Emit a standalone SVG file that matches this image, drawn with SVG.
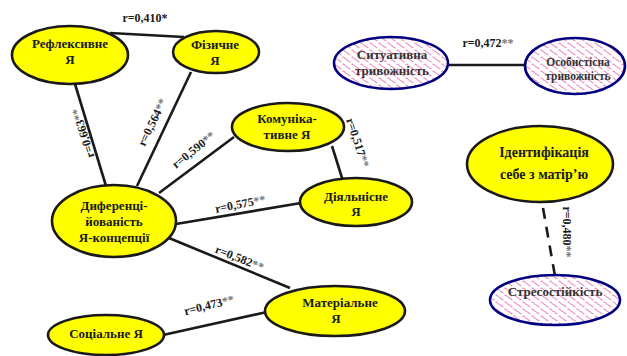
<svg xmlns="http://www.w3.org/2000/svg" width="627" height="356" viewBox="0 0 627 356">
<defs>
<pattern id="hatch" width="9" height="7" patternUnits="userSpaceOnUse">
<rect width="9" height="7" fill="#ffffff"/>
<path d="M0.5,1.5 C2,0 3,3 4.5,3.5 C6,4 6.5,5.5 8.5,6" fill="none" stroke="#f088bc" stroke-width="1.1"/>
</pattern>
<style>
.y{fill:#ffff00;stroke:#1a1a1a;stroke-width:2.6}
.p{fill:url(#hatch);stroke:#000080;stroke-width:2.6}
.t{font-family:"Liberation Serif","Times New Roman",serif;font-weight:bold;font-size:13px;fill:#1a1a1a;text-anchor:middle}
.tp{font-family:"Liberation Serif","Times New Roman",serif;font-weight:bold;font-size:13px;fill:#333333;text-anchor:middle}
.l{font-family:"Liberation Serif","Times New Roman",serif;font-weight:bold;font-size:12px;fill:#1a1a1a;text-anchor:middle}
.s{fill:#777777}
.c{stroke:#1a1a1a;stroke-width:2.6;fill:none}
</style>
</defs>
<rect width="627" height="356" fill="#ffffff"/>
<g id="connectors">
<line class="c" x1="110" y1="33" x2="184" y2="37"/>
<line class="c" x1="75" y1="84" x2="106" y2="186"/>
<line class="c" x1="191" y1="72" x2="137" y2="186"/>
<line class="c" x1="234" y1="137" x2="159" y2="193"/>
<line class="c" x1="332" y1="146" x2="343" y2="181"/>
<line class="c" x1="176" y1="224" x2="301" y2="203"/>
<line class="c" x1="169" y1="238" x2="290" y2="288"/>
<line class="c" x1="163" y1="335" x2="267" y2="312"/>
<line class="c" x1="448" y1="65" x2="525" y2="65"/>
<line class="c" x1="543" y1="208" x2="555" y2="276" stroke-dasharray="11,8"/>
<text class="l" x="145" y="22">r=0,410*</text>
<text class="l" transform="translate(87,132) rotate(-107)">r=0,663<tspan class="s">**</tspan></text>
<text class="l" transform="translate(156,124) rotate(-64)">r=0,564<tspan class="s">**</tspan></text>
<text class="l" transform="translate(196,153) rotate(-39)">r=0,590<tspan class="s">**</tspan></text>
<text class="l" transform="translate(354,144) rotate(72)">r=0,517<tspan class="s">**</tspan></text>
<text class="l" transform="translate(241,208) rotate(-11)">r=0,575<tspan class="s">**</tspan></text>
<text class="l" transform="translate(238,262) rotate(22)">r=0,582<tspan class="s">**</tspan></text>
<text class="l" transform="translate(210,309) rotate(-14)">r=0,473<tspan class="s">**</tspan></text>
<text class="l" x="488" y="47">r=0,472<tspan class="s">**</tspan></text>
<text class="l" transform="translate(563,232) rotate(90)">r=0,480<tspan class="s">**</tspan></text>
</g>
<g id="reflexive">
<ellipse class="y" cx="70" cy="55" rx="58" ry="29"/>
<text class="t" x="70" y="48">Рефлексивне</text>
<text class="t" x="70" y="64">Я</text>
</g>
<g id="physical">
<ellipse class="y" cx="216" cy="52" rx="43" ry="21"/>
<text class="t" x="215" y="49">Фізичне</text>
<text class="t" x="215" y="65">Я</text>
</g>
<g id="communicative">
<ellipse class="y" cx="288" cy="127" rx="56" ry="24"/>
<text class="t" x="287" y="123">Комуніка-</text>
<text class="t" x="287" y="139">тивне Я</text>
</g>
<g id="differentiation">
<ellipse class="y" cx="114" cy="221" rx="62" ry="36"/>
<text class="t" x="114" y="210">Диференці-</text>
<text class="t" x="114" y="226">йованість</text>
<text class="t" x="114" y="242">Я-концепції</text>
</g>
<g id="activity">
<ellipse class="y" cx="356" cy="202" rx="56" ry="24"/>
<text class="t" x="356" y="201">Діяльнісне</text>
<text class="t" x="356" y="216">Я</text>
</g>
<g id="material">
<ellipse class="y" cx="335" cy="311" rx="70" ry="25"/>
<text class="t" x="340" y="307">Матеріальне</text>
<text class="t" x="336" y="323">Я</text>
</g>
<g id="social">
<ellipse class="y" cx="106" cy="335" rx="58" ry="20"/>
<text class="t" x="106" y="338">Соціальне Я</text>
</g>
<g id="situational">
<ellipse class="p" cx="391" cy="63" rx="57" ry="26"/>
<text class="tp" x="392" y="59">Ситуативна</text>
<text class="tp" x="392" y="75">тривожність</text>
</g>
<g id="personal">
<ellipse class="p" cx="575" cy="66" rx="50" ry="28"/>
<text class="tp" x="578" y="66" style="font-size:11.5px">Особистісна</text>
<text class="tp" x="578" y="80" style="font-size:11.5px">тривожність</text>
</g>
<g id="identification">
<ellipse class="y" cx="540" cy="164" rx="73" ry="38"/>
<text class="t" x="544" y="157" style="font-size:14px">Ідентифікація</text>
<text class="t" x="544" y="179" style="font-size:14px">себе з матір’ю</text>
</g>
<g id="stress">
<ellipse class="p" cx="555" cy="300" rx="65" ry="25"/>
<text class="tp" x="555" y="296">Стресостійкість</text>
</g>
</svg>
